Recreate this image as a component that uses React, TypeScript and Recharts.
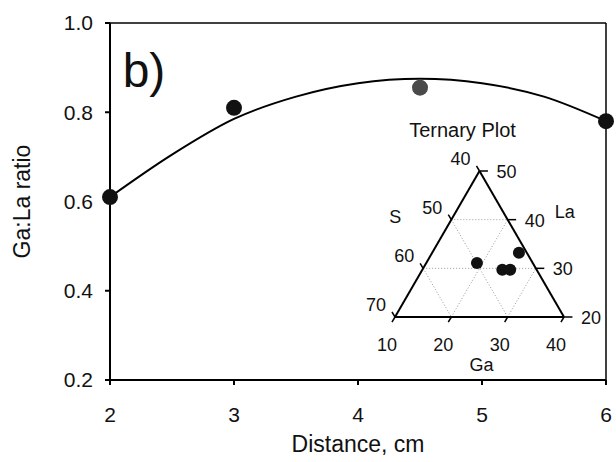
import {
  ComposedChart,
  ScatterChart,
  Line,
  Scatter,
  XAxis,
  YAxis,
  ReferenceLine,
  ReferenceDot,
  Cell,
} from "recharts";

// main panel: Ga:La ratio vs distance
const distance = [2, 3, 4.5, 6];
const ratio = [0.61, 0.81, 0.855, 0.78];

// fitted curve
const fitDistance = [2, 2.5, 3, 3.5, 4, 4.5, 5, 5.5, 6];
const fitRatio = [0.61, 0.705, 0.785, 0.835, 0.865, 0.875, 0.865, 0.835, 0.78];

const xTicks = [2, 3, 4, 5, 6];
const yTicks = [0.2, 0.4, 0.6, 0.8, 1.0];

// ternary inset (Ga + La + S = 100)
const ternGa = [19.0, 24.2, 25.6, 25.4];
const ternLa = [31.1, 29.7, 29.7, 33.2];
const gaTicks = [10, 20, 30, 40];
const laTicks = [20, 30, 40, 50];
const sTicks = [40, 50, 60, 70];

const FONT = "'Liberation Sans', Arial, sans-serif";
const H = Math.sqrt(3) / 2;

// project Ga/La (S implied) onto the unit triangle
function tern(ga: number, la: number) {
  return { x: (ga - 10) / 30 + (la - 20) / 60, y: ((la - 20) / 30) * H };
}

const points = distance.map((x, i) => ({ x, y: ratio[i] }));
const fitData = fitDistance.map((x, i) => ({ x, y: fitRatio[i] }));
const ternPoints = ternGa.map((g, i) => tern(g, ternLa[i]));

const edges = [
  [tern(10, 20), tern(40, 20)],
  [tern(40, 20), tern(10, 50)],
  [tern(10, 50), tern(10, 20)],
];

const grid = [
  ...laTicks.slice(1, -1).map((l) => [tern(10, l), tern(60 - l, l)]),
  ...gaTicks.slice(1, -1).map((g) => [tern(g, 20), tern(g, 60 - g)]),
  ...sTicks.slice(1, -1).map((s) => [tern(10, 90 - s), tern(80 - s, 20)]),
];

const tickMarks = [
  ...laTicks.map((l) => {
    const p = tern(60 - l, l);
    return [p, { x: p.x + 0.05, y: p.y }];
  }),
  ...gaTicks.map((g) => {
    const p = tern(g, 20);
    return [p, { x: p.x - 0.018, y: p.y - 0.03 }];
  }),
  ...sTicks.map((s) => {
    const p = tern(10, 90 - s);
    return [p, { x: p.x - 0.018, y: p.y + 0.03 }];
  }),
];

const labels = [
  ...gaTicks.map((g) => ({ ...tern(g, 20), text: String(g), dx: -8, dy: 28, size: 18 })),
  ...laTicks.map((l) => ({ ...tern(60 - l, l), text: String(l), dx: 27, dy: 1, size: 18 })),
  ...sTicks.map((s) => ({ ...tern(10, 90 - s), text: String(s), dx: -19, dy: -12, size: 18 })),
  { ...tern(25, 20), text: "Ga", dx: 2, dy: 48, size: 18 },
  { ...tern(20, 40), text: "La", dx: 57, dy: -8, size: 18 },
  { ...tern(10, 40), text: "S", dx: -56, dy: -3, size: 18 },
  { ...tern(10, 50), text: "Ternary Plot", dx: -17, dy: -41, size: 20 },
];

function Dot(props: any) {
  return <circle cx={props.cx} cy={props.cy} r={8} fill={props.fill} />;
}

function TernDot(props: any) {
  return <circle cx={props.cx} cy={props.cy} r={6} fill="#111" />;
}

function LabelText(props: any) {
  const d = props.payload;
  return (
    <text
      x={props.cx + d.dx}
      y={props.cy + d.dy}
      textAnchor="middle"
      dominantBaseline="central"
      fontSize={d.size}
      fill="#111"
      fontFamily={FONT}
    >
      {d.text}
    </text>
  );
}

function TernaryInset() {
  return (
    <ScatterChart width={276} height={300} margin={{ top: 61, right: 52, bottom: 93, left: 55 }}>
      <XAxis type="number" dataKey="x" domain={[0, 1]} hide />
      <YAxis type="number" dataKey="y" domain={[0, H]} hide />
      {grid.map((seg, i) => (
        <ReferenceLine key={"g" + i} segment={seg} stroke="#999" strokeDasharray="1 2" strokeWidth={1} ifOverflow="visible" />
      ))}
      {edges.map((seg, i) => (
        <ReferenceLine key={"e" + i} segment={seg} stroke="#000" strokeWidth={2} ifOverflow="visible" />
      ))}
      {tickMarks.map((seg, i) => (
        <ReferenceLine key={"t" + i} segment={seg} stroke="#000" strokeWidth={1.5} ifOverflow="visible" />
      ))}
      <Scatter data={ternPoints} shape={TernDot} isAnimationActive={false} />
      <Scatter data={labels} shape={LabelText} isAnimationActive={false} />
    </ScatterChart>
  );
}

export default function App() {
  return (
    <div
      style={{
        position: "absolute",
        left: 0,
        top: 0,
        width: 616,
        height: 462,
        background: "#fff",
        fontFamily: FONT,
      }}
    >
      <ComposedChart width={616} height={462} margin={{ top: 23, right: 10, bottom: 0, left: 0 }}>
        <XAxis
          type="number"
          dataKey="x"
          domain={[2, 6]}
          ticks={xTicks}
          height={82}
          tickSize={5}
          tickMargin={22}
          stroke="#000"
          strokeWidth={2}
          tick={{ fill: "#111", fontSize: 21 }}
          label={{ value: "Distance, cm", position: "insideBottom", offset: 10, fontSize: 23, fill: "#111" }}
        />
        <YAxis
          type="number"
          dataKey="y"
          domain={[0.2, 1]}
          ticks={yTicks}
          width={110}
          tickSize={5}
          tickMargin={12}
          tickFormatter={(v: number) => v.toFixed(1)}
          stroke="#000"
          strokeWidth={2}
          tick={{ fill: "#111", fontSize: 21 }}
          label={{ value: "Ga:La ratio", angle: -90, position: "center", dx: -33, fontSize: 23, fill: "#111" }}
        />
        <ReferenceLine y={1} stroke="#000" strokeWidth={1.5} />
        <ReferenceLine x={6} stroke="#000" strokeWidth={1.5} />
        <ReferenceDot
          x={2}
          y={1}
          r={0}
          fill="none"
          stroke="none"
          label={{ value: "b)", position: "center", dx: 34, dy: 47, fontSize: 48, fill: "#111" }}
        />
        <Line
          data={fitData}
          dataKey="y"
          type="monotone"
          dot={false}
          stroke="#000"
          strokeWidth={2}
          isAnimationActive={false}
        />
        <Scatter data={points} dataKey="y" shape={Dot} isAnimationActive={false}>
          {points.map((p, i) => (
            <Cell key={i} fill={p.x === 4.5 ? "#4a4a4a" : "#111"} />
          ))}
        </Scatter>
      </ComposedChart>
      <div style={{ position: "absolute", left: 340, top: 110 }}>
        <TernaryInset />
      </div>
    </div>
  );
}
